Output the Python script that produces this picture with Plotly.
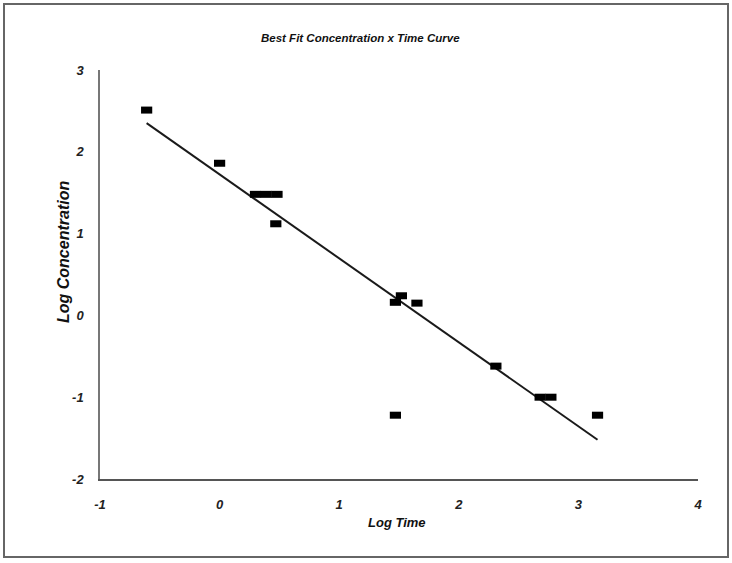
import plotly.graph_objects as go

log_time = [-0.61, 0.00, 0.30, 0.39, 0.48, 0.47, 1.47, 1.52, 1.65, 1.47, 2.31, 2.68, 2.77, 3.16]
log_conc = [2.51, 1.86, 1.48, 1.48, 1.48, 1.12, 0.16, 0.24, 0.15, -1.22, -0.62, -1.00, -1.00, -1.22]

fit_x = [-0.61, 3.16]
fit_y = [2.35, -1.52]

x_ticks = [-1, 0, 1, 2, 3, 4]
x_labels = ["-1", "0", "1", "2", "3", "4"]
y_ticks = [-2, -1, 0, 1, 2, 3]
y_labels = ["-2", "-1", "0", "1", "2", "3"]

title_text = "Best Fit Concentration x Time Curve"
x_title = "Log Time"
y_title = "Log Concentration"

FONT = "Liberation Sans"

fig = go.Figure()
fig.add_trace(go.Scatter(
    x=fit_x, y=fit_y, mode="lines",
    line=dict(color="#1a1a1a", width=2), showlegend=False, hoverinfo="skip"))
fig.add_trace(go.Scatter(
    x=log_time, y=log_conc, mode="markers",
    marker=dict(symbol="line-ew", size=8, color="#000",
                line=dict(color="#000", width=7)),
    showlegend=False))

tickfont = dict(family=FONT, size=13, color="#222", style="italic", weight="bold")

fig.update_layout(
    width=732, height=563,
    margin=dict(l=100, r=34, t=70, b=84),
    paper_bgcolor="white", plot_bgcolor="white",
    xaxis=dict(range=[-1, 4], tickvals=x_ticks, ticktext=x_labels, showgrid=False, zeroline=False,
               showline=True, linecolor="#555", linewidth=2,
               ticks="", ticklabelstandoff=12, tickfont=tickfont),
    yaxis=dict(range=[-2, 3], tickvals=y_ticks, ticktext=y_labels, showgrid=False, zeroline=False,
               showline=True, linecolor="#777", linewidth=1.5,
               ticks="", ticklabelstandoff=12, tickfont=tickfont),
    annotations=[
        dict(text=title_text, xref="paper", yref="paper", x=0.435, y=(479 - 38) / 409,
             showarrow=False, xanchor="center", yanchor="middle",
             font=dict(family=FONT, size=11.5, color="#111", style="italic", weight="bold")),
        dict(text=x_title, xref="paper", yref="paper", x=(397 - 100) / 598, y=(479 - 522) / 409,
             showarrow=False, xanchor="center", yanchor="middle",
             font=dict(family=FONT, size=13, color="#111", style="italic", weight="bold")),
        dict(text=y_title, xref="paper", yref="paper", x=(63 - 100) / 598, y=(479 - 252) / 409,
             showarrow=False, xanchor="center", yanchor="middle", textangle=-90,
             font=dict(family=FONT, size=16, color="#111", style="italic", weight="bold")),
    ],
    shapes=[dict(type="rect", xref="paper", yref="paper",
                 x0=(4 - 100) / 598, x1=(728 - 100) / 598,
                 y0=(479 - 557) / 409, y1=(479 - 4) / 409,
                 line=dict(color="#666", width=2), fillcolor="rgba(0,0,0,0)")],
)

fig.write_html("out.html")
